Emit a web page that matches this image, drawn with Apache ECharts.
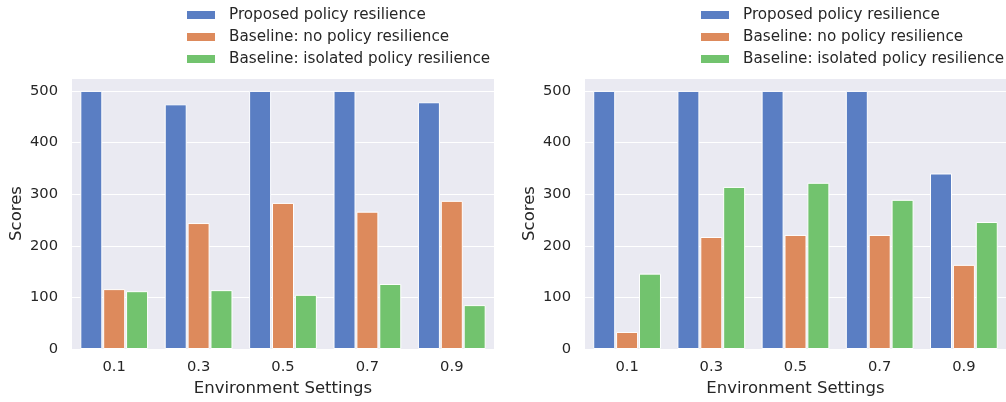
<!DOCTYPE html>
<html><head><meta charset="utf-8">
<script src="https://cdn.jsdelivr.net/npm/echarts@6/dist/echarts.min.js"></script>
<style>html,body{margin:0;padding:0;background:#fff}#c{width:1006px;height:402px}</style>
</head><body><div id="c"></div>
<script>
const categories = ['0.1', '0.3', '0.5', '0.7', '0.9'];
const seriesNames = ['Proposed policy resilience', 'Baseline: no policy resilience', 'Baseline: isolated policy resilience'];
const leftProposed = [500, 474, 500, 500, 478];
const leftNoPolicy = [116, 244, 283, 266, 287];
const leftIsolated = [112, 114, 105, 126, 85];
const rightProposed = [500, 500, 500, 500, 340];
const rightNoPolicy = [33, 217, 221, 221, 163];
const rightIsolated = [146, 314, 322, 289, 246];
const yTicks = [0, 100, 200, 300, 400, 500];
const colors = ['#5a7ec3', '#dd8a5c', '#72c36e'];

const font = 'DejaVu Sans';
const textColor = '#262626';
const chart = echarts.init(document.getElementById('c'));

function xAxis(i) {
  return {
    type: 'category', gridIndex: i, data: categories,
    axisLine: {show: false}, axisTick: {show: false},
    axisLabel: {color: textColor, fontFamily: font, fontSize: 14.7, margin: 11},
    name: 'Environment Settings', nameLocation: 'middle', nameGap: 31,
    nameTextStyle: {color: textColor, fontFamily: font, fontSize: 16.5},
    splitLine: {show: false}
  };
}
function yAxis(i) {
  return {
    type: 'value', gridIndex: i, min: 0, max: 525, interval: 100,
    axisLine: {show: false}, axisTick: {show: false},
    axisLabel: {color: textColor, fontFamily: font, fontSize: 14.7, margin: 14,
      formatter: v => yTicks.includes(v) ? String(v) : ''},
    splitLine: {lineStyle: {color: '#ffffff', width: 1.2}},
    name: 'Scores', nameLocation: 'middle', nameGap: 47, nameRotate: 90,
    nameTextStyle: {color: textColor, fontFamily: font, fontSize: 16.5}
  };
}
function bar(name, data, idx, gi) {
  return {
    type: 'bar', name: name, data: data, xAxisIndex: gi, yAxisIndex: gi,
    barWidth: 22, barGap: '4%',
    itemStyle: {color: colors[idx], borderColor: '#ffffff', borderWidth: 1},
    emphasis: {disabled: true}, animation: false
  };
}
function legend(left) {
  return {
    orient: 'vertical', left: left, top: 7, padding: 0,
    itemWidth: 30, itemHeight: 10, itemGap: 6,
    icon: 'rect',
    textStyle: {color: textColor, fontFamily: font, fontSize: 15.2, lineHeight: 16, padding: [0, 0, 0, 8]},
    data: seriesNames, selectedMode: false
  };
}

chart.setOption({
  animation: false,
  color: colors,
  grid: [
    {left: 72, width: 422, top: 78, height: 274, show: true, backgroundColor: '#eaeaf2', borderWidth: 0},
    {left: 585, width: 425, top: 78, height: 274, show: true, backgroundColor: '#eaeaf2', borderWidth: 0}
  ],
  legend: [legend(185), legend(699)],
  xAxis: [xAxis(0), xAxis(1)],
  yAxis: [yAxis(0), yAxis(1)],
  series: [
    bar(seriesNames[0], leftProposed, 0, 0),
    bar(seriesNames[1], leftNoPolicy, 1, 0),
    bar(seriesNames[2], leftIsolated, 2, 0),
    bar(seriesNames[0], rightProposed, 0, 1),
    bar(seriesNames[1], rightNoPolicy, 1, 1),
    bar(seriesNames[2], rightIsolated, 2, 1)
  ]
});
</script></body></html>
